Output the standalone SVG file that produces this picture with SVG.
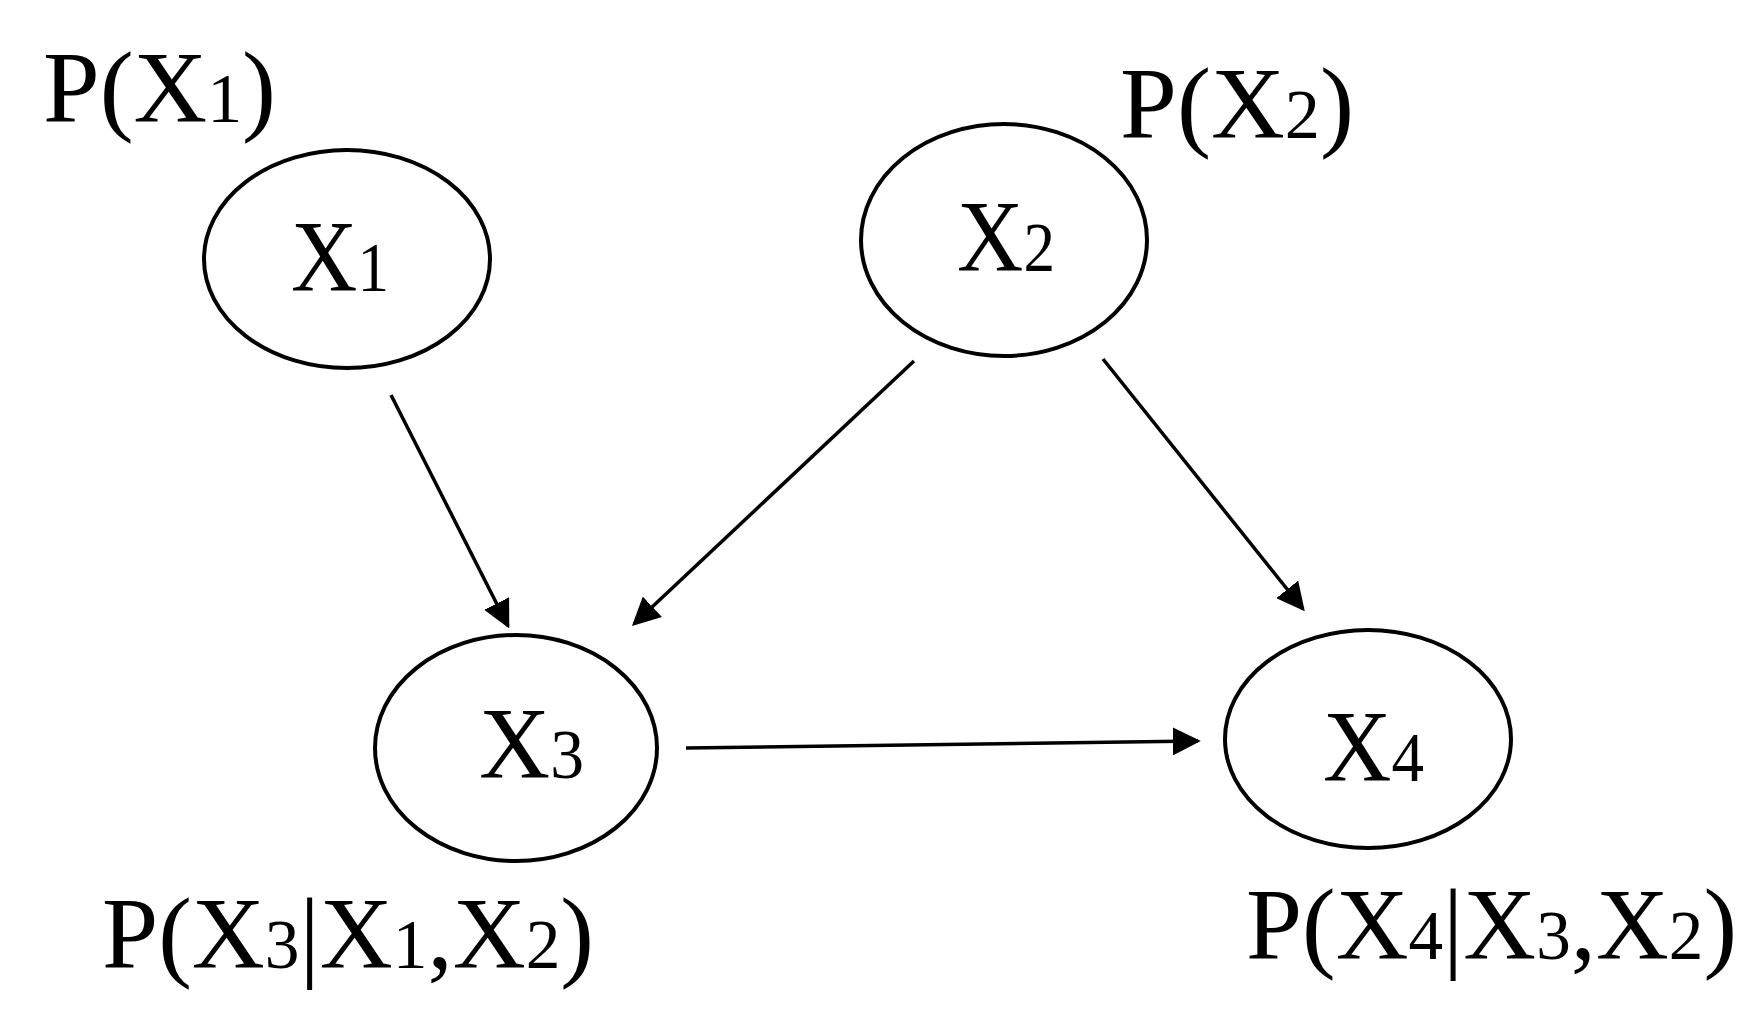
<svg xmlns="http://www.w3.org/2000/svg" width="1761" height="1025" viewBox="0 0 1761 1025">
<style>
.n{fill:none;stroke:#000;stroke-width:4}
.t{font-family:"Liberation Serif",serif;font-size:102px;fill:#000}
.s{font-size:70px}
.e{stroke:#000;stroke-width:3.5;fill:none;marker-end:url(#a)}
</style>
<defs><marker id="a" viewBox="0 0 10 10" refX="9" refY="5" markerWidth="8" markerHeight="8" markerUnits="strokeWidth" orient="auto"><path d="M0,0L10,5L0,10z" fill="#000"/></marker></defs>
<rect width="1761" height="1025" fill="#fff"/>
<g id="connectors">
<line class="e" x1="391" y1="395" x2="508" y2="626"/>
<line class="e" x1="914" y1="361" x2="634" y2="624"/>
<line class="e" x1="1103" y1="359" x2="1303" y2="609"/>
<line class="e" x1="686" y1="748" x2="1198" y2="741"/>
</g>
<g id="X1"><ellipse class="n" cx="347" cy="259" rx="143" ry="109"/><text class="t" x="291" y="291" textLength="98" lengthAdjust="spacingAndGlyphs">X<tspan class="s">1</tspan></text></g>
<g id="X2"><ellipse class="n" cx="1004" cy="240" rx="143" ry="116"/><text class="t" x="957" y="271" textLength="98" lengthAdjust="spacingAndGlyphs">X<tspan class="s">2</tspan></text></g>
<g id="X3"><ellipse class="n" cx="516" cy="748" rx="141" ry="113"/><text class="t" x="479" y="778" textLength="105" lengthAdjust="spacingAndGlyphs">X<tspan class="s">3</tspan></text></g>
<g id="X4"><ellipse class="n" cx="1368" cy="739" rx="143" ry="109"/><text class="t" x="1323" y="781" textLength="101" lengthAdjust="spacingAndGlyphs">X<tspan class="s">4</tspan></text></g>
<g id="labels">
<text class="t" x="43" y="122" textLength="233" lengthAdjust="spacingAndGlyphs">P(X<tspan class="s">1</tspan>)</text>
<text class="t" x="1120" y="138" textLength="234" lengthAdjust="spacingAndGlyphs">P(X<tspan class="s">2</tspan>)</text>
<text class="t" x="102" y="968" textLength="492" lengthAdjust="spacingAndGlyphs">P(X<tspan class="s">3</tspan>|X<tspan class="s">1</tspan>,X<tspan class="s">2</tspan>)</text>
<text class="t" x="1246" y="959" textLength="491" lengthAdjust="spacingAndGlyphs">P(X<tspan class="s">4</tspan>|X<tspan class="s">3</tspan>,X<tspan class="s">2</tspan>)</text>
</g>
</svg>
